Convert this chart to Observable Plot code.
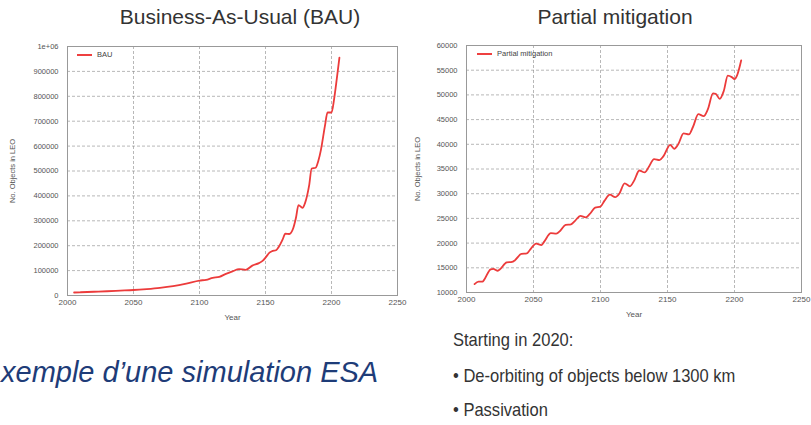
<!DOCTYPE html>
<html>
<head>
<meta charset="utf-8">
<script src="https://cdn.jsdelivr.net/npm/d3@7"></script>
<script src="https://cdn.jsdelivr.net/npm/@observablehq/plot@0.6"></script>
<style>
  html, body { margin: 0; padding: 0; background: #fff; }
  body { width: 811px; height: 425px; position: relative; overflow: hidden; font-family: "Liberation Sans", Arial, sans-serif; }
  .abs { position: absolute; white-space: nowrap; }
  .title { font-size: 21px; color: #333; top: 5px; transform: translateX(-50%); }
  .legend { font-size: 7.5px; color: #444; display: flex; align-items: center; }
  .legend .sw { display: inline-block; width: 15px; height: 2px; background: #ee4040; margin-right: 5px; }
  .note { font-size: 19px; color: #333; transform: scaleX(0.87); transform-origin: left top; }
  .esa { font-size: 29px; font-style: italic; color: #1e3c78; }
</style>
</head>
<body>
<div id="right" class="abs" style="left:400px;top:0"></div>
<div id="left" class="abs" style="left:0;top:0"></div>
<div class="abs title" style="left:240px">Business-As-Usual (BAU)</div>
<div class="abs title" style="left:615px">Partial mitigation</div>
<div class="abs legend" style="left:77px;top:50px"><span class="sw"></span>BAU</div>
<div class="abs legend" style="left:477px;top:49px"><span class="sw"></span>Partial mitigation</div>
<div class="abs esa" style="left:1px;top:356px">xemple d’une simulation ESA</div>
<div class="abs note" style="left:453px;top:329px">Starting in 2020:</div>
<div class="abs note" style="left:453px;top:365px">• De-orbiting of objects below 1300 km</div>
<div class="abs note" style="left:453px;top:399px">• Passivation</div>
<script>
// ---- data ----
const xTicks = [2000, 2050, 2100, 2150, 2200, 2250];
const gridYears = [2050, 2100, 2150, 2200];

const bauTicks = [0, 100000, 200000, 300000, 400000, 500000, 600000, 700000, 800000, 900000, 1000000];
const bauYears = [2005, 2010, 2020, 2030, 2040, 2050, 2060, 2070, 2080, 2090, 2100, 2105, 2110, 2115, 2120, 2125, 2130, 2135, 2140, 2145, 2148, 2150, 2153, 2155, 2158, 2160, 2163, 2165, 2168, 2171, 2173, 2175, 2178, 2180, 2183, 2185, 2188, 2190, 2192, 2195, 2197, 2200, 2202, 2204, 2206];
const bauValues = [12000, 13000, 15000, 17000, 19500, 22000, 26000, 31000, 38000, 48000, 60000, 63000, 71000, 75000, 87000, 97000, 106000, 103000, 120000, 130000, 140000, 152000, 172000, 178000, 182000, 195000, 225000, 248000, 247000, 270000, 310000, 363000, 352000, 372000, 440000, 510000, 513000, 540000, 585000, 680000, 735000, 735000, 790000, 870000, 955000];

const pmTicks = [10000, 15000, 20000, 25000, 30000, 35000, 40000, 45000, 50000, 55000, 60000];
const pmYears = [2006, 2009, 2012, 2013, 2018, 2020, 2023, 2025, 2030, 2034, 2036, 2041, 2045, 2047, 2052, 2056, 2058, 2063, 2067, 2070, 2074, 2078, 2081, 2085, 2089, 2092, 2096, 2100, 2103, 2107, 2111, 2114, 2118, 2122, 2125, 2129, 2133, 2136, 2140, 2144, 2147, 2152, 2155, 2158, 2162, 2166, 2169, 2173, 2177, 2180, 2184, 2186, 2189, 2192, 2195, 2198, 2200, 2202, 2205];
const pmValues = [11700, 12200, 12200, 12500, 14700, 14800, 14400, 14700, 16100, 16200, 16500, 17800, 17900, 18500, 19900, 19600, 20300, 22000, 21900, 22500, 23700, 23800, 24500, 25500, 25200, 25900, 27200, 27400, 28600, 29800, 29300, 30000, 32100, 31500, 32600, 34700, 34300, 35400, 37000, 36800, 37600, 39900, 39100, 40000, 42200, 42000, 43500, 46100, 45700, 47000, 50300, 50200, 49200, 50800, 53900, 53600, 53200, 54000, 57000];

const yLabel = "No. Objects in LEO";
const xLabel = "Year";

function chart(years, values, yTicks, yFmt, opts) {
  const data = years.map((y, i) => ({year: y, value: values[i]}));
  return Plot.plot({
    width: opts.width, height: 330,
    marginLeft: opts.ml, marginRight: opts.mr, marginTop: opts.mt, marginBottom: opts.mb,
    style: {fontFamily: "Liberation Sans, Arial, sans-serif", background: "none", color: "#555"},
    x: {domain: [2000, 2250]},
    y: {domain: [yTicks[0], yTicks[yTicks.length - 1]]},
    marks: [
      Plot.gridX(gridYears, {stroke: "#888", strokeOpacity: 0.6, strokeDasharray: "3,2"}),
      Plot.gridY(yTicks.slice(1, -1), {stroke: "#888", strokeOpacity: 0.6, strokeDasharray: "3,2"}),
      Plot.frame({stroke: "#999"}),
      Plot.axisX({ticks: xTicks, tickSize: 0, tickPadding: 4, tickFormat: d => String(d), fontSize: 8, label: xLabel, labelAnchor: "center", labelArrow: "none", labelOffset: 24}),
      Plot.axisY({ticks: yTicks, tickSize: 0, tickPadding: 9, tickFormat: yFmt, fontSize: 7.5, label: yLabel, labelAnchor: "center", labelArrow: "none", labelOffset: opts.lo}),
      Plot.line(data, {x: "year", y: "value", stroke: "#ec3b3b", strokeWidth: 1.8, curve: "monotone-x"})
    ]
  });
}

document.getElementById("left").appendChild(
  chart(bauYears, bauValues, bauTicks, d => d === 1000000 ? "1e+06" : String(d), {width: 420, ml: 67, mr: 23, mt: 46, mb: 35, lo: 58})
);
document.getElementById("right").appendChild(
  chart(pmYears, pmValues, pmTicks, d => String(d), {width: 411, ml: 66, mr: 10, mt: 45, mb: 38, lo: 52})
);
</script>
</body>
</html>
